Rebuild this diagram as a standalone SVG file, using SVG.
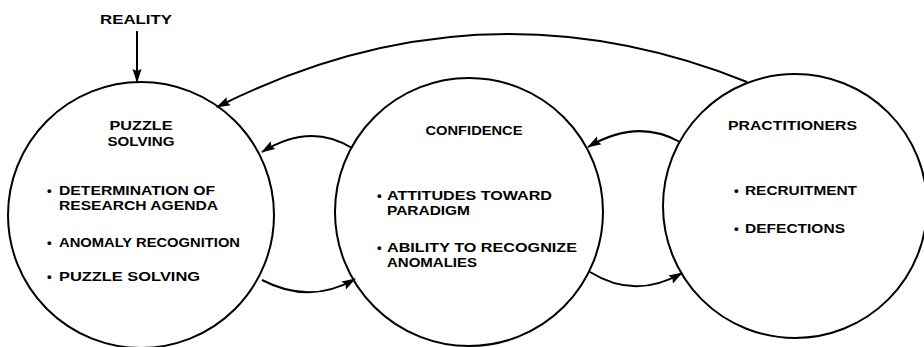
<svg xmlns="http://www.w3.org/2000/svg" width="924" height="347" viewBox="0 0 924 347">
<defs>
<style>
.node circle{fill:none;stroke:#000;stroke-width:2}
text{font-family:"Liberation Sans",Arial,sans-serif;font-weight:bold;font-size:13.4px;fill:#000}
.c{text-anchor:middle}
#connectors path,#connectors line{fill:none;stroke:#000;stroke-width:2}
</style>
<marker id="ah" markerUnits="userSpaceOnUse" markerWidth="14" markerHeight="10" viewBox="0 0 14 10" refX="13" refY="5" orient="auto">
<path d="M0,0.5 L14,5 L0,9.5 L2,5 z" fill="#000"/>
</marker>
</defs>
<rect width="924" height="347" fill="#fff"/>
<g id="reality">
<text class="c" x="136" y="24" textLength="72" lengthAdjust="spacingAndGlyphs">REALITY</text>
</g>
<g id="puzzle-solving" class="node">
<circle cx="141" cy="215" r="133"/>
<text class="c" x="141" y="130" textLength="63" lengthAdjust="spacingAndGlyphs">PUZZLE</text>
<text class="c" x="141" y="146" textLength="67" lengthAdjust="spacingAndGlyphs">SOLVING</text>
<text x="47" y="195"><tspan>•</tspan><tspan x="59" textLength="156" lengthAdjust="spacingAndGlyphs">DETERMINATION OF</tspan></text>
<text x="59" y="210" textLength="159" lengthAdjust="spacingAndGlyphs">RESEARCH AGENDA</text>
<text x="47" y="247"><tspan>•</tspan><tspan x="59" textLength="181" lengthAdjust="spacingAndGlyphs">ANOMALY RECOGNITION</tspan></text>
<text x="47" y="281"><tspan>•</tspan><tspan x="59" textLength="141" lengthAdjust="spacingAndGlyphs">PUZZLE SOLVING</tspan></text>
</g>
<g id="confidence" class="node">
<circle cx="469" cy="212" r="134"/>
<text class="c" x="474" y="135" textLength="97" lengthAdjust="spacingAndGlyphs">CONFIDENCE</text>
<text x="377" y="200"><tspan>•</tspan><tspan x="387" textLength="165" lengthAdjust="spacingAndGlyphs">ATTITUDES TOWARD</tspan></text>
<text x="387" y="215" textLength="83" lengthAdjust="spacingAndGlyphs">PARADIGM</text>
<text x="377" y="252"><tspan>•</tspan><tspan x="387" textLength="190" lengthAdjust="spacingAndGlyphs">ABILITY TO RECOGNIZE</tspan></text>
<text x="387" y="267" textLength="90" lengthAdjust="spacingAndGlyphs">ANOMALIES</text>
</g>
<g id="practitioners" class="node">
<circle cx="795" cy="206" r="132"/>
<text x="728" y="130" textLength="129" lengthAdjust="spacingAndGlyphs">PRACTITIONERS</text>
<text x="734" y="195"><tspan>•</tspan><tspan x="745" textLength="112" lengthAdjust="spacingAndGlyphs">RECRUITMENT</tspan></text>
<text x="734" y="233"><tspan>•</tspan><tspan x="745" textLength="100" lengthAdjust="spacingAndGlyphs">DEFECTIONS</tspan></text>
</g>
<g id="connectors">
<line x1="137" y1="31" x2="137" y2="82" marker-end="url(#ah)"/>
<path d="M747,82 Q480,-25 217,107" marker-end="url(#ah)"/>
<path d="M352,148 Q310,122 262,152" marker-end="url(#ah)"/>
<path d="M262,280 Q310,305 355,279" marker-end="url(#ah)"/>
<path d="M680,142 Q637,118 588,147" marker-end="url(#ah)"/>
<path d="M590,272 Q635,300 682,273" marker-end="url(#ah)"/>
</g>
</svg>
